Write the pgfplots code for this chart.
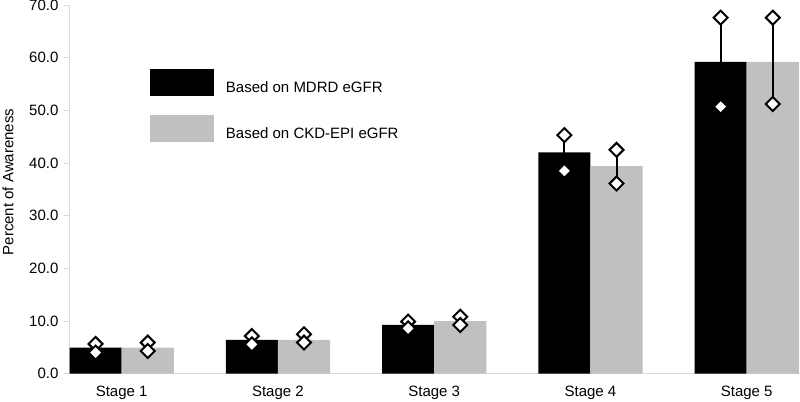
\documentclass[border=0pt]{standalone}
\usepackage{fontspec}
\setmainfont{Liberation Sans}
\usepackage{pgfplots}
\usepackage{pgfplotstable}
\pgfplotsset{compat=1.18}
\definecolor{barsilver}{HTML}{C0C0C0}
\definecolor{axisgray}{HTML}{D9D9D9}
\newcommand{\chartfont}{\fontsize{11.25}{13.5}\selectfont}

% stage positions: black bars left of the group centre, silver right
\pgfplotstableread{
x        y     ep    em
-0.1668  4.94  0.70  0.94
0.8332   6.40  0.75  0.83
1.8332   9.25  0.65  0.65
2.8332   42.0  3.30  3.50
3.8332   59.2  8.40  8.50
}\mdrd
\pgfplotstableread{
x        y     ep    em
0.1668   4.94  0.96  0.64
1.1668   6.40  1.08  0.50
2.1668   10.0  0.80  0.75
3.1668   39.4  3.10  3.30
4.1668   59.2  8.40  8.00
}\ckdepi

\begin{document}
\begin{tikzpicture}
\path[use as bounding box] (0,0) rectangle (600pt,300.75pt);
\begin{axis}[
  at={(52.1pt,20.5pt)}, anchor=south west,
  scale only axis,
  width=547.9pt, height=276.5pt,
  xmin=-0.334, xmax=4.341,
  ymin=0, ymax=70,
  axis lines*=left,
  axis line style={draw=axisgray, line width=0.75pt},
  font=\chartfont,
  ytick={0,10,...,70},
  yticklabel style={/pgf/number format/fixed, /pgf/number format/fixed zerofill,
    /pgf/number format/precision=1, /pgf/number format/assume math mode=true, xshift=-1pt},
  ytick style={draw=axisgray, line width=0.75pt},
  tick align=outside,
  major tick length=3.75pt,
  xtick={0,1,2,3,4},
  xticklabels={Stage 1,Stage 2,Stage 3,Stage 4,Stage 5},
  xtick style={draw=none},
  xticklabel style={yshift=-2pt},
  ylabel={Percent of Awareness},
  every axis y label/.style={at={(axis description cs:-0.084,0.52)}, anchor=center, rotate=90},
  bar width=0.3336,
  legend style={at={(rel axis cs:0.1102,0.8264)}, anchor=north west,
    draw=none, fill=none, inner sep=0pt, outer sep=0pt,
    nodes={inner sep=0pt, anchor=west}, row sep=14.6pt, column sep=9pt,
    font=\chartfont},
  legend cell align=left,
]
\addplot[ybar, bar shift=0pt, fill=black, draw=none,
  legend image code/.code={\fill[black] (0pt,-6pt) rectangle (48pt,14.25pt);},
  error bars/.cd, y dir=both, y explicit,
  error bar style={line width=1.5pt, black},
  error mark=square*,
  error mark options={rotate=45, mark size=3.7pt, fill=white, draw=black, line width=1.5pt}]
  table[x=x, y=y, y error plus=ep, y error minus=em] {\mdrd};
\addlegendentry{Based on MDRD eGFR}
\addplot[ybar, bar shift=0pt, fill=barsilver, draw=none,
  legend image code/.code={\fill[barsilver] (0pt,-6pt) rectangle (48pt,14.25pt);},
  error bars/.cd, y dir=both, y explicit,
  error bar style={line width=1.5pt, black},
  error mark=square*,
  error mark options={rotate=45, mark size=3.7pt, fill=white, draw=black, line width=1.5pt}]
  table[x=x, y=y, y error plus=ep, y error minus=em] {\ckdepi};
\addlegendentry{Based on CKD-EPI eGFR}
\end{axis}
\end{tikzpicture}
\end{document}
